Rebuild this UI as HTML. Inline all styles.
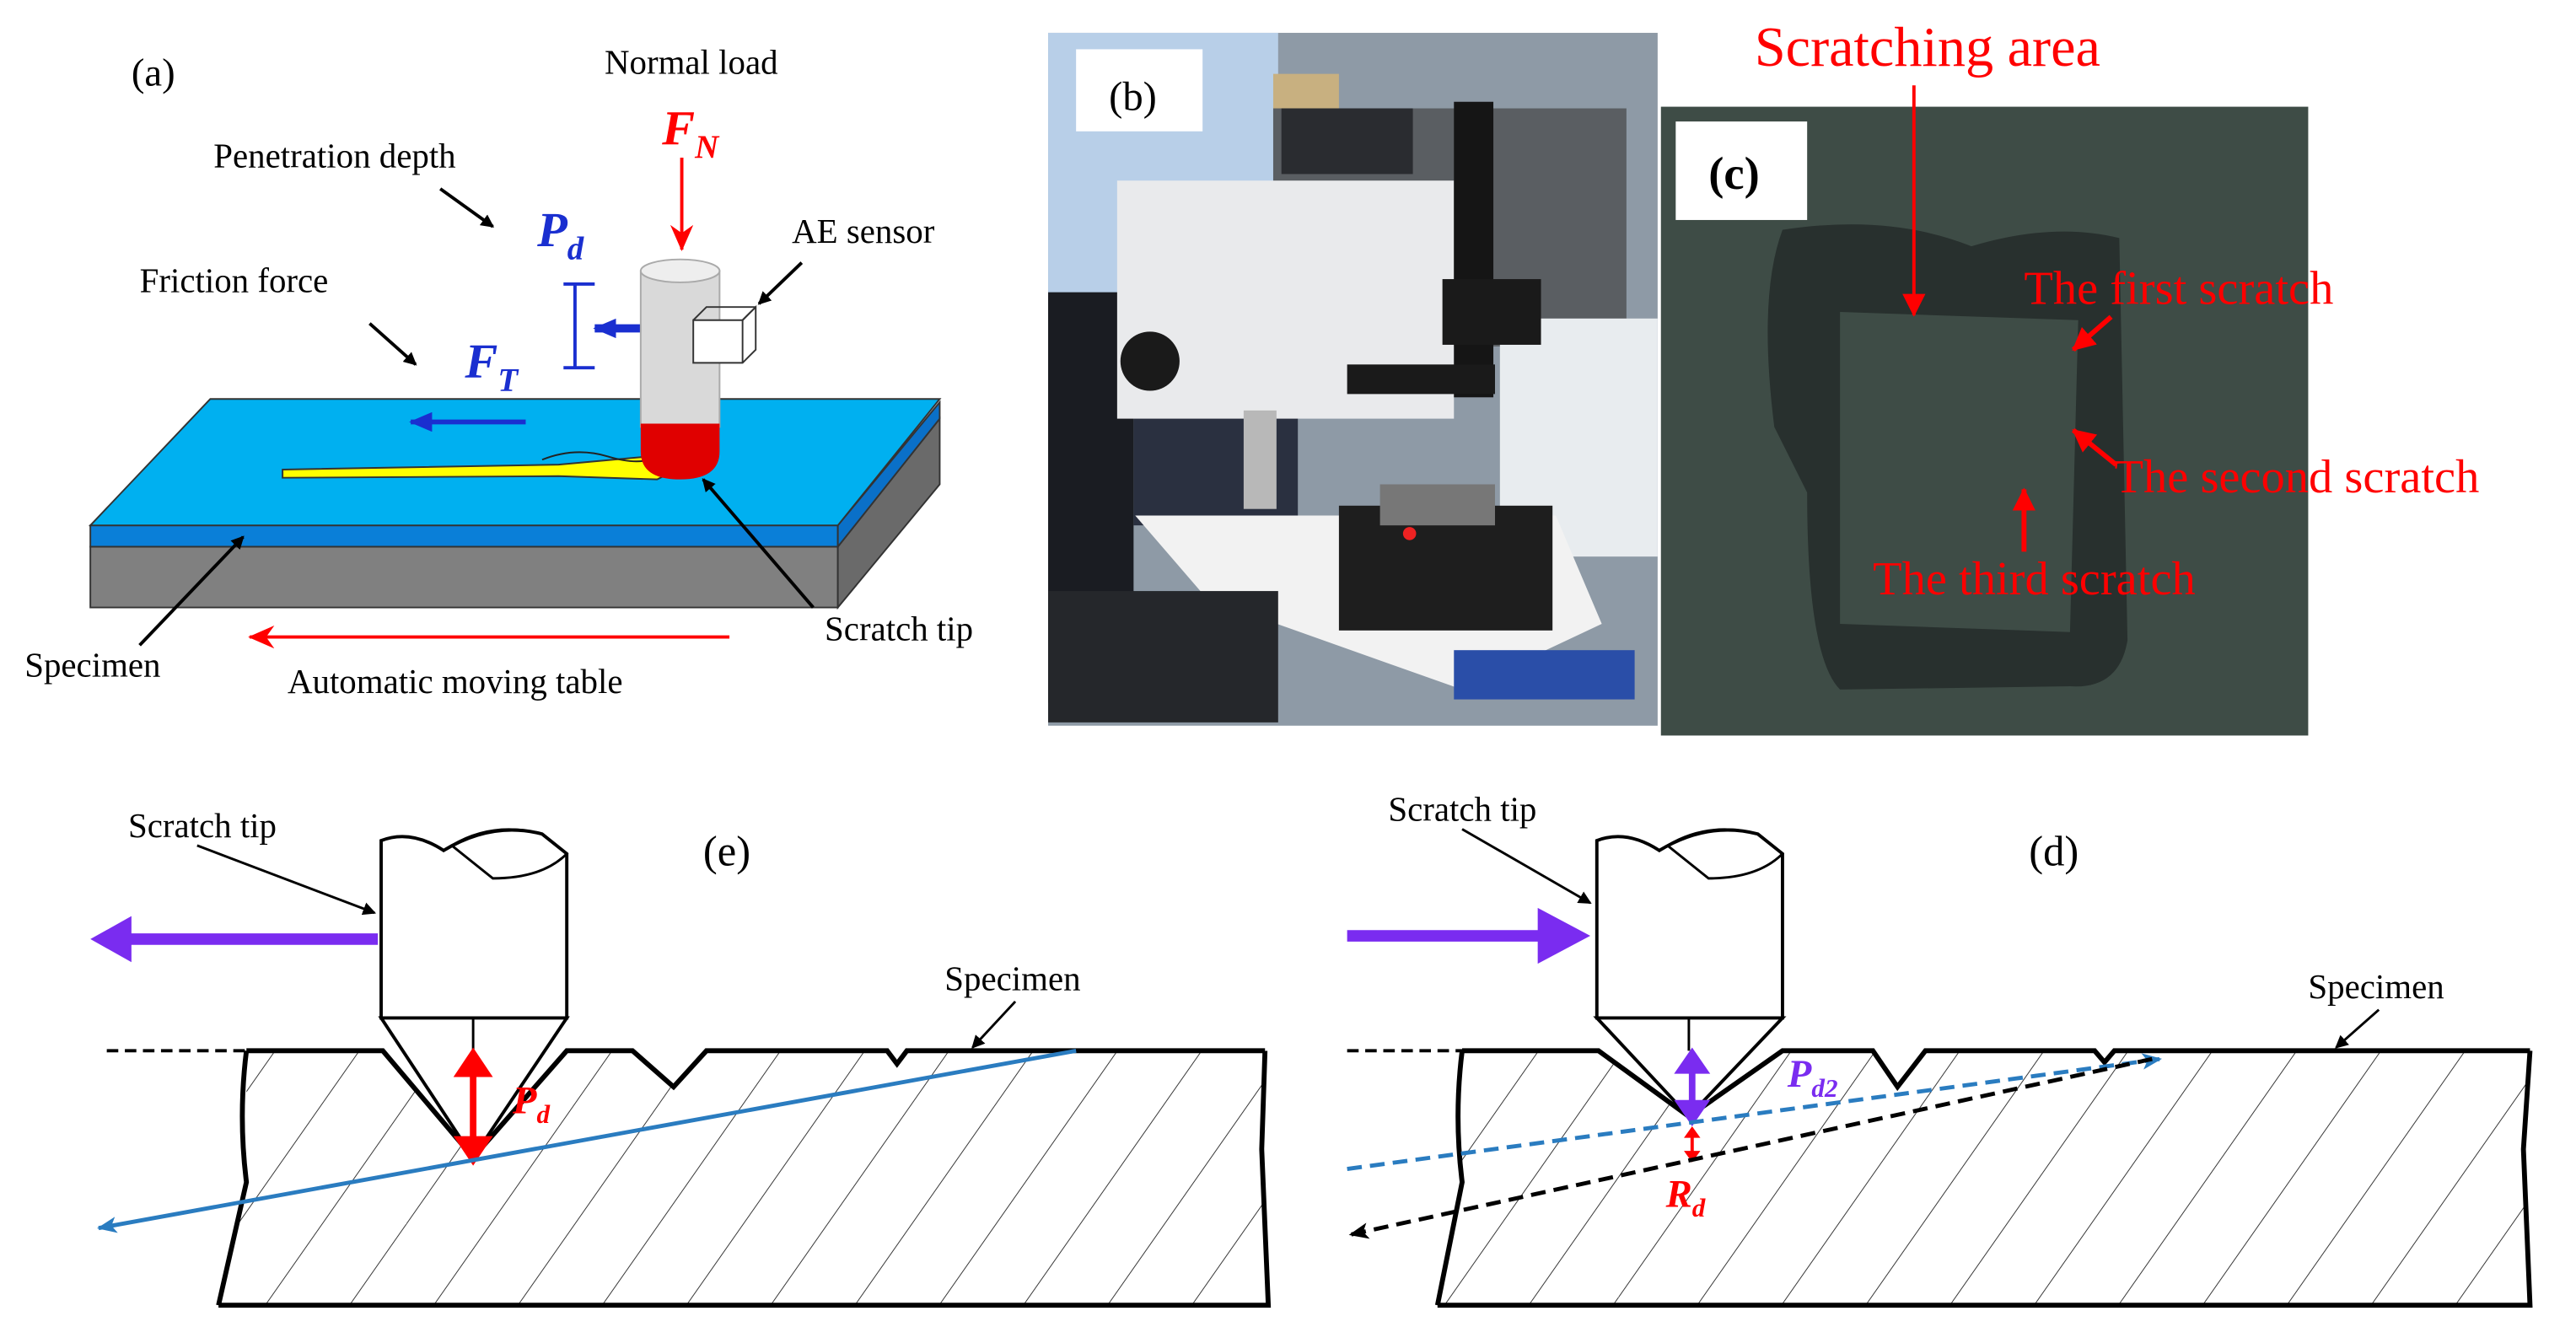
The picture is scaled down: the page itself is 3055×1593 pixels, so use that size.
<!DOCTYPE html>
<html><head><meta charset="utf-8"><style>html,body{margin:0;padding:0;background:#fff}svg{display:block}</style></head>
<body>
<svg width="3055" height="1593" viewBox="0 0 1568 818" preserveAspectRatio="none" xmlns="http://www.w3.org/2000/svg" font-family="Liberation Serif, serif">
<defs>
<marker id="ak" markerWidth="8" markerHeight="8" refX="7" refY="4" orient="auto" markerUnits="userSpaceOnUse"><path d="M0,0 L8,4 L0,8 z" fill="#000"/></marker>
<marker id="ar" markerWidth="16" markerHeight="14" refX="15" refY="7" orient="auto" markerUnits="userSpaceOnUse"><path d="M0,0 L16,7 L0,14 L5,7 z" fill="#f00"/></marker>
<marker id="ab" markerWidth="14" markerHeight="12" refX="13" refY="6" orient="auto" markerUnits="userSpaceOnUse"><path d="M0,0 L14,6 L0,12 z" fill="#1a2fd0"/></marker>
<marker id="al" markerWidth="12" markerHeight="10" refX="11" refY="5" orient="auto" markerUnits="userSpaceOnUse"><path d="M0,0 L12,5 L0,10 L3,5 z" fill="#2a7cc0"/></marker>
<marker id="ad" markerWidth="12" markerHeight="10" refX="11" refY="5" orient="auto" markerUnits="userSpaceOnUse"><path d="M0,0 L12,5 L0,10 L3,5 z" fill="#000"/></marker>
<marker id="ac" markerWidth="14" markerHeight="14" refX="13" refY="7" orient="auto" markerUnits="userSpaceOnUse"><path d="M0,0 L14,7 L0,14 z" fill="#f00"/></marker>
<clipPath id="ce"><path d="M150,640 L233,640 L288,705 L345,640 L385,640 L410,662 L430,640 L540,640 L546,648 L552,640 L770,640 L768,700 L772,795 L133,795 L150,720 Z"/></clipPath>
<clipPath id="cd"><path d="M890,640 L973,640 L1028,680 L1085,640 L1140,640 L1155,662 L1172,640 L1275,640 L1281,647 L1287,640 L1540,640 L1536,700 L1540,795 L875,795 L890,720 Z"/></clipPath>
<pattern id="hat" width="42" height="42" patternUnits="userSpaceOnUse" patternTransform="rotate(35)"><line x1="0" y1="0" x2="0" y2="42" stroke="#333" stroke-width="1"/></pattern>
</defs>

<!-- (a) -->
<text x="80" y="52" font-size="24">(a)</text>
<text x="368" y="45" font-size="21">Normal load</text>
<text x="403" y="88" font-size="30" font-style="italic" font-weight="bold" fill="#f00">F<tspan font-size="20" dy="8">N</tspan></text>
<line x1="415" y1="96" x2="415" y2="152" stroke="#f00" stroke-width="2" marker-end="url(#ar)"/>
<text x="130" y="102" font-size="21">Penetration depth</text>
<line x1="268" y1="115" x2="300" y2="138" stroke="#000" stroke-width="2" marker-end="url(#ak)"/>
<text x="327" y="150" font-size="30" font-style="italic" font-weight="bold" fill="#1a2fd0">P<tspan font-size="20" dy="8">d</tspan></text>
<text x="85" y="178" font-size="21">Friction force</text>
<line x1="225" y1="197" x2="253" y2="222" stroke="#000" stroke-width="2" marker-end="url(#ak)"/>
<text x="283" y="230" font-size="30" font-style="italic" font-weight="bold" fill="#1a2fd0">F<tspan font-size="20" dy="8">T</tspan></text>
<g stroke="#1a2fd0" stroke-width="2"><line x1="343" y1="173" x2="362" y2="173"/><line x1="350" y1="173" x2="350" y2="224"/><line x1="343" y1="224" x2="362" y2="224"/></g>
<line x1="390" y1="200" x2="362" y2="200" stroke="#1a2fd0" stroke-width="5" marker-end="url(#ab)"/>
<text x="482" y="148" font-size="21">AE sensor</text>
<line x1="488" y1="160" x2="462" y2="185" stroke="#000" stroke-width="2" marker-end="url(#ak)"/>
<polygon points="55,333 510,333 510,370 55,370" fill="#808080" stroke="#333"/>
<polygon points="510,333 572,255 572,295 510,370" fill="#6a6a6a" stroke="#333"/>
<polygon points="55,320 510,320 510,333 55,333" fill="#0a7fd8" stroke="#333"/>
<polygon points="510,320 572,245 572,255 510,333" fill="#0a70c8" stroke="#333"/>
<polygon points="128,243 572,243 510,320 55,320" fill="#00b0f0" stroke="#333"/>
<line x1="320" y1="257" x2="250" y2="257" stroke="#1a2fd0" stroke-width="3" marker-end="url(#ab)"/>
<path d="M172,286 L340,283 L395,278 L420,282 L400,292 L340,290 L172,291 Z" fill="#ffff00" stroke="#333" stroke-width="1"/>
<path d="M330,280 Q350,272 370,278 T400,278" fill="none" stroke="#222" stroke-width="1"/>
<rect x="390" y="165" width="48" height="95" fill="#d9d9d9" stroke="#aaa"/>
<ellipse cx="414" cy="165" rx="24" ry="7" fill="#eee" stroke="#aaa"/>
<path d="M390,258 L438,258 L438,275 Q438,292 414,292 Q390,292 390,275 Z" fill="#e00000"/>
<polygon points="422,195 452,195 460,187 460,213 452,221 422,221" fill="#fff" stroke="#333"/>
<polyline points="422,195 430,187 460,187" fill="none" stroke="#333"/>
<line x1="452" y1="195" x2="460" y2="187" stroke="#333"/>
<line x1="452" y1="195" x2="452" y2="221" stroke="#333"/>
<text x="15" y="412" font-size="21">Specimen</text>
<line x1="85" y1="393" x2="148" y2="327" stroke="#000" stroke-width="2" marker-end="url(#ak)"/>
<text x="502" y="390" font-size="21">Scratch tip</text>
<line x1="495" y1="370" x2="428" y2="292" stroke="#000" stroke-width="2" marker-end="url(#ak)"/>
<line x1="444" y1="388" x2="152" y2="388" stroke="#f00" stroke-width="2" marker-end="url(#ar)"/>
<text x="175" y="422" font-size="21">Automatic moving table</text>

<!-- (b) photo -->
<rect x="638" y="20" width="371" height="422" fill="#8e9aa6"/>
<rect x="638" y="20" width="140" height="160" fill="#b8cfe8"/>
<rect x="775" y="45" width="40" height="40" fill="#c8b080"/>
<rect x="775" y="66" width="215" height="145" fill="#5a5e62"/>
<rect x="780" y="66" width="80" height="40" fill="#2a2c30"/>
<rect x="913" y="194" width="96" height="145" fill="#e8ecef"/>
<rect x="638" y="178" width="52" height="250" fill="#1a1c22"/>
<rect x="690" y="230" width="100" height="90" fill="#2a3040"/>
<polygon points="691,314 947,314 975,380 890,420 735,365" fill="#f2f2f2"/>
<rect x="680" y="110" width="205" height="145" fill="#e9eaec"/>
<rect x="885" y="62" width="24" height="180" fill="#151515"/>
<rect x="878" y="170" width="60" height="40" fill="#1a1a1a"/>
<rect x="820" y="222" width="90" height="18" fill="#1a1a1a"/>
<circle cx="700" cy="220" r="18" fill="#1a1a1a"/>
<rect x="757" y="250" width="20" height="60" fill="#b8b8b8"/>
<rect x="815" y="308" width="130" height="76" fill="#1e1e1e"/>
<rect x="840" y="295" width="70" height="25" fill="#777"/>
<circle cx="858" cy="325" r="4" fill="#e22"/>
<rect x="885" y="396" width="110" height="30" fill="#2a4ea8"/>
<rect x="638" y="360" width="140" height="80" fill="#25272b"/>
<rect x="655" y="30" width="77" height="50" fill="#fff"/>
<text x="675" y="67" font-size="25">(b)</text>

<!-- (c) photo -->
<rect x="1011" y="65" width="394" height="383" fill="#3e4c46"/>
<path d="M1085,140 Q1150,130 1200,150 Q1250,135 1290,145 L1295,390 Q1290,420 1260,418 L1120,420 Q1100,400 1100,300 L1080,260 Q1070,180 1085,140 Z M1120,190 L1120,380 L1260,385 L1265,195 Z" fill="#28302e" fill-rule="evenodd"/>
<rect x="1020" y="74" width="80" height="60" fill="#fff"/>
<text x="1040" y="115" font-size="28" font-weight="bold">(c)</text>
<text x="1068" y="40" font-size="34" fill="#f00">Scratching area</text>
<line x1="1165" y1="52" x2="1165" y2="192" stroke="#f00" stroke-width="2" marker-end="url(#ac)"/>
<text x="1232" y="185" font-size="29" fill="#f00">The first scratch</text>
<line x1="1285" y1="193" x2="1262" y2="213" stroke="#f00" stroke-width="3" marker-end="url(#ac)"/>
<text x="1287" y="300" font-size="29" fill="#f00">The second scratch</text>
<line x1="1288" y1="283" x2="1262" y2="262" stroke="#f00" stroke-width="3" marker-end="url(#ac)"/>
<text x="1140" y="362" font-size="29" fill="#f00">The third scratch</text>
<line x1="1232" y1="336" x2="1232" y2="298" stroke="#f00" stroke-width="3" marker-end="url(#ac)"/>

<!-- (e) -->
<rect x="133" y="630" width="650" height="170" fill="url(#hat)" clip-path="url(#ce)"/>
<path d="M150,640 L233,640 L288,705 L345,640 L385,640 L410,662 L430,640 L540,640 L546,648 L552,640 L770,640 M770,640 L768,700 L772,795 L133,795 M150,640 Q145,680 150,720 L133,795" fill="none" stroke="#000" stroke-width="3"/>
<line x1="65" y1="640" x2="150" y2="640" stroke="#000" stroke-width="2" stroke-dasharray="7,4"/>
<path d="M232,620 L232,512 Q250,505 270,518 Q300,500 330,508 L345,520 L345,620 Z" fill="#fff" stroke="#000" stroke-width="2"/>
<path d="M275,515 Q300,500 330,508 L345,520 Q330,535 300,535 Z" fill="none" stroke="#000" stroke-width="1.5"/>
<path d="M232,620 L345,620 L288,705 Z" fill="#fff" stroke="#000" stroke-width="2"/>
<line x1="288" y1="620" x2="288" y2="640" stroke="#000" stroke-width="1.5"/>
<line x1="230" y1="572" x2="78" y2="572" stroke="#7a2cf0" stroke-width="7"/>
<polygon points="55,572 80,558 80,586" fill="#7a2cf0"/>
<line x1="288" y1="655" x2="288" y2="693" stroke="#f00" stroke-width="4"/>
<polygon points="288,638 276,656 300,656" fill="#f00"/>
<polygon points="288,710 276,692 300,692" fill="#f00"/>
<text x="312" y="678" font-size="24" font-style="italic" font-weight="bold" fill="#f00">P<tspan font-size="16" dy="6">d</tspan></text>
<line x1="655" y1="640" x2="60" y2="748" stroke="#2a7cc0" stroke-width="2.5" marker-end="url(#al)"/>
<text x="78" y="510" font-size="21">Scratch tip</text>
<line x1="120" y1="515" x2="228" y2="556" stroke="#000" stroke-width="1.5" marker-end="url(#ak)"/>
<text x="428" y="527" font-size="26">(e)</text>
<text x="575" y="603" font-size="21">Specimen</text>
<line x1="618" y1="610" x2="592" y2="638" stroke="#000" stroke-width="1.5" marker-end="url(#ak)"/>

<!-- (d) -->
<rect x="875" y="630" width="680" height="170" fill="url(#hat)" clip-path="url(#cd)"/>
<path d="M890,640 L973,640 L1028,680 L1085,640 L1140,640 L1155,662 L1172,640 L1275,640 L1281,647 L1287,640 L1540,640 M1540,640 L1536,700 L1540,795 L875,795 M890,640 Q885,680 890,720 L875,795" fill="none" stroke="#000" stroke-width="3"/>
<line x1="820" y1="640" x2="890" y2="640" stroke="#000" stroke-width="2" stroke-dasharray="7,4"/>
<path d="M972,620 L972,512 Q990,505 1010,518 Q1040,500 1070,508 L1085,520 L1085,620 Z" fill="#fff" stroke="#000" stroke-width="2"/>
<path d="M1015,515 Q1040,500 1070,508 L1085,520 Q1070,535 1040,535 Z" fill="none" stroke="#000" stroke-width="1.5"/>
<path d="M972,620 L1085,620 L1028,680 Z" fill="#fff" stroke="#000" stroke-width="2"/>
<line x1="1028" y1="620" x2="1028" y2="640" stroke="#000" stroke-width="1.5"/>
<line x1="820" y1="570" x2="940" y2="570" stroke="#7a2cf0" stroke-width="7"/>
<polygon points="968,570 936,553 936,587" fill="#7a2cf0"/>
<line x1="1030" y1="650" x2="1030" y2="676" stroke="#7a2cf0" stroke-width="4"/>
<polygon points="1030,638 1019,654 1041,654" fill="#7a2cf0"/>
<polygon points="1030,686 1019,670 1041,670" fill="#7a2cf0"/>
<line x1="1030" y1="690" x2="1030" y2="704" stroke="#f00" stroke-width="2"/>
<polygon points="1030,686 1025,693 1035,693" fill="#f00"/>
<polygon points="1030,708 1025,701 1035,701" fill="#f00"/>
<text x="1088" y="662" font-size="24" font-style="italic" font-weight="bold" fill="#7a2cf0">P<tspan font-size="16" dy="6">d2</tspan></text>
<text x="1014" y="735" font-size="24" font-style="italic" font-weight="bold" fill="#f00">R<tspan font-size="16" dy="6">d</tspan></text>
<line x1="820" y1="712" x2="1315" y2="645" stroke="#2a7cc0" stroke-width="2.5" stroke-dasharray="9,5" marker-end="url(#al)"/>
<line x1="1310" y1="645" x2="822" y2="752" stroke="#000" stroke-width="2.5" stroke-dasharray="9,5" marker-end="url(#ad)"/>
<text x="845" y="500" font-size="21">Scratch tip</text>
<line x1="890" y1="505" x2="968" y2="550" stroke="#000" stroke-width="1.5" marker-end="url(#ak)"/>
<text x="1235" y="527" font-size="26">(d)</text>
<text x="1405" y="608" font-size="21">Specimen</text>
<line x1="1448" y1="615" x2="1422" y2="638" stroke="#000" stroke-width="1.5" marker-end="url(#ak)"/>
</svg>
</body></html>
